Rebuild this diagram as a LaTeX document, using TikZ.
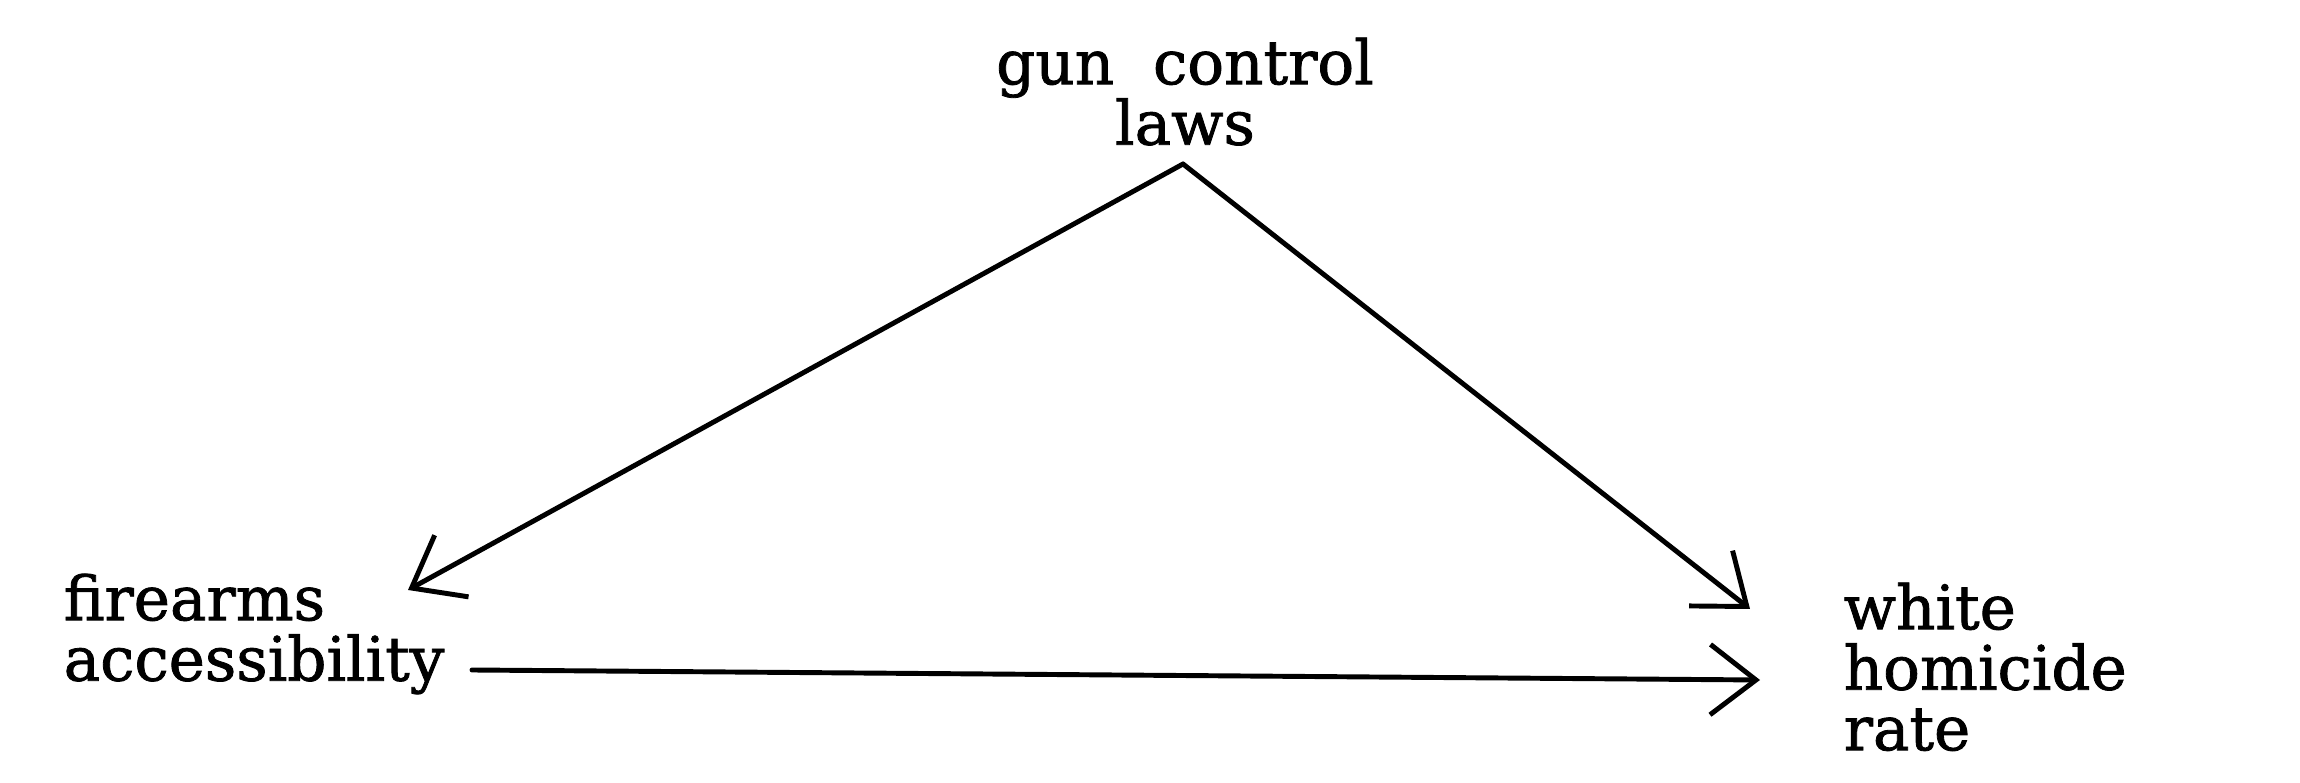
\documentclass[tikz,border=0pt]{standalone}
\usepackage{fontspec}
\setmainfont{DejaVu Serif}
\newfontfamily\lblfont{DejaVu Serif}[FakeBold=1.3]
\usetikzlibrary{arrows.meta}
\begin{document}
\begin{tikzpicture}[x=0.01cm,y=-0.01cm,
  lbl/.style={inner sep=0pt,font=\lblfont\fontsize{17.4}{17.2}\selectfont},
  conn/.style={line width=1.4pt,line cap=round,-{Straight Barb[length=13pt,width=20pt,line width=1.4pt]}}]
\useasboundingbox (0,0) rectangle (2300,783);
\node[lbl,anchor=north,align=center] (gcl) at (1185,37) {gun\ \ control\\laws};
\node[lbl,anchor=north west,align=left] (fa) at (63,573) {firearms\\accessibility};
\node[lbl,anchor=north west,align=left] (whr) at (1843,582) {white\\homicide\\rate};
\coordinate (apex) at (1183,164);
\coordinate (tipL) at (408,590);
\coordinate (tipR) at (1750,609);
\coordinate (hstart) at (472,670);
\coordinate (tipH) at (1760,680);
\draw[conn] (apex) -- (tipL);
\draw[conn] (apex) -- (tipR);
\draw[conn] (hstart) -- (tipH);
\end{tikzpicture}
\end{document}
